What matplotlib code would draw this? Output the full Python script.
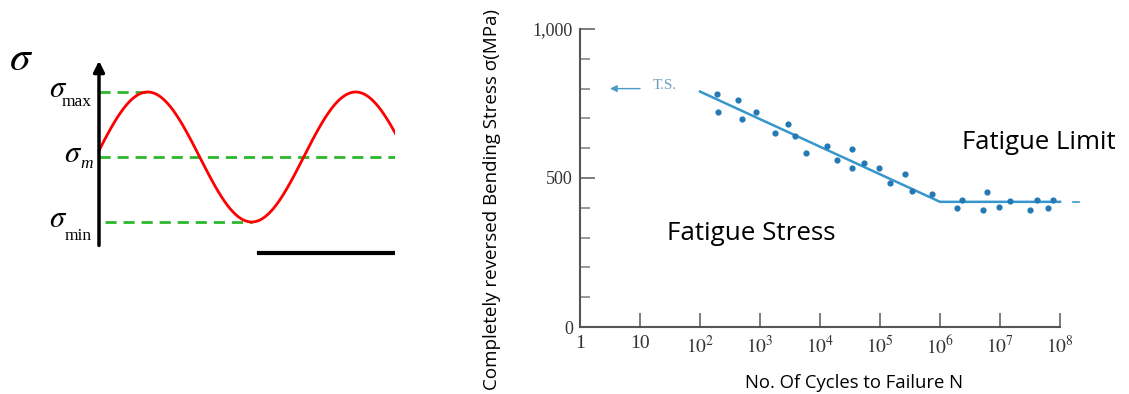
import matplotlib.pyplot as plt
import numpy as np

plt.rcParams['mathtext.fontset'] = 'stix'

# left sketch: stress vs time, x in cycles, y in units of the amplitude
sigma_mean = 0.0
sigma_amp = 1.0
sigma_phase = 0.1
t_end = 1.43

# right chart: S-N data
cycles = [190, 200, 427, 500, 871, 1778, 2951, 3802, 5888, 12882, 19055,
          34674, 34674, 54954, 97724, 144544, 257040, 338844, 741310,
          2344229, 1905461, 5248075, 6025596, 9549926, 14791084,
          31622777, 41686938, 63095734, 77624712]
stress = [781, 722, 761, 697, 722, 650, 680, 641, 585, 607, 560, 596, 532,
          552, 532, 482, 512, 457, 446, 426, 398, 393, 452, 404, 424, 391,
          426, 398, 426]
fit_cycles = [1e2, 1e6, 1e8]
fit_stress = [790, 420, 420]
tensile_strength = 800
xtick_vals = [10**k for k in range(9)]
xtick_labels = ['1', '10'] + ['$10^{%d}$' % k for k in range(2, 9)]
ytick_vals = [0, 500, 1000]
ytick_labels = ['0', '500', '1,000']

W, H = 1129, 394
fig = plt.figure(figsize=(W / 100, H / 100), dpi=100)

# ---- left: cyclic stress sketch ----
ax1 = fig.add_axes([0, 0, 395 / W, 1])
ax1.set_xlim(-99 / 208, 296 / 208)
ax1.set_ylim((157 - 394) / 65, 157 / 65)
ax1.axis('off')


def px(x, y):
    # pixel position in the picture -> data units of the sketch
    return (x - 99) / 208, (157 - y) / 65


green = '#2cb82c'
t_peak = (np.pi / 2 - sigma_phase) / (2 * np.pi)
t_trough = t_peak + 0.5
ax1.plot([0, t_peak], [sigma_mean + sigma_amp] * 2, color=green, lw=2,
         dashes=(4, 2.5))
ax1.plot([0.03, t_trough], [sigma_mean - sigma_amp] * 2, color=green, lw=2,
         dashes=(4, 2.5))
ax1.plot([0, t_end], [sigma_mean] * 2, color=green, lw=2, dashes=(4, 2.5))

t = np.linspace(0, t_end, 500)
ax1.plot(t, sigma_mean + sigma_amp * np.sin(2 * np.pi * t + sigma_phase),
         color='red', lw=2)

ax1.annotate('', xy=(0, 1.48), xytext=(0, -1.36),
             arrowprops=dict(arrowstyle='-|>', lw=2.5, color='black',
                             mutation_scale=16, shrinkA=0, shrinkB=0))
ax1.plot([0.77, t_end], [-1.48, -1.48], color='black', lw=3)

# sigma labels: big glyph plus small upright subscript
ax1.text(*px(21, 70), r'$\sigma$', fontsize=30, ha='center', va='baseline')
sig_labels = [(58, 97, 'max', 77, 106, 'normal'),
              (73, 162, 'm', 87, 168, 'italic'),
              (58, 227, 'min', 78, 240, 'normal')]
for sx, sy, sub, bx, by, style in sig_labels:
    ax1.text(*px(sx, sy), r'$\sigma$', fontsize=22, ha='center',
             va='baseline')
    ax1.text(*px(bx, by), sub, fontsize=12.5, ha='center', va='baseline',
             family='Liberation Serif', style=style)

# ---- right: S-N curve ----
ax2 = fig.add_axes([580 / W, 1 - 327 / H, 480 / W, 298 / H])
ax2.set_xscale('log')
ax2.set_xlim(1, 1e8)
ax2.set_ylim(0, 1000)

blue = '#3796cc'
ax2.plot(fit_cycles, fit_stress, color=blue, lw=1.8, clip_on=False)
ax2.scatter(cycles, stress, s=12, color='#2479b4', zorder=3, clip_on=False)
ax2.plot([10**8.22, 10**8.32], [420, 420], color=blue, lw=1.2, clip_on=False)

ax2.annotate('', xy=(10**0.5, tensile_strength),
             xytext=(10**1.0, tensile_strength),
             arrowprops=dict(arrowstyle='-|>', color='#4a9cc8', lw=1,
                             mutation_scale=10, shrinkA=0, shrinkB=0))
ax2.text(10**1.22, tensile_strength + 12, 'T.S.', color='#6b9fbd',
         fontsize=11, family='Liberation Serif', va='center')

for s in ['top', 'right']:
    ax2.spines[s].set_visible(False)
for s in ['left', 'bottom']:
    ax2.spines[s].set_color('#555555')
    ax2.spines[s].set_linewidth(1.5)

ax2.set_xticks(xtick_vals)
ax2.set_xticklabels(xtick_labels)
ax2.xaxis.set_minor_locator(plt.NullLocator())
ax2.set_yticks(ytick_vals)
ax2.set_yticklabels(ytick_labels)
ax2.set_yticks(np.arange(100, 1000, 100), minor=True)
ax2.tick_params(axis='x', direction='in', length=10, width=1.2,
                color='#666666', labelsize=14, pad=6)
ax2.tick_params(axis='y', which='major', direction='in', length=11,
                width=1.2, color='#666666', labelsize=13, pad=5)
ax2.tick_params(axis='y', which='minor', direction='in', length=7,
                width=1.2, color='#888888')
for lab in ax2.get_xticklabels() + ax2.get_yticklabels():
    lab.set_family('Liberation Serif')
    lab.set_color('#333333')

fig.text(492 / W, 1 - 199 / H,
         'Completely reversed Bending Stress \u03c3(MPa)', rotation=90,
         ha='center', va='center', fontsize=13.5, family='Open Sans')
fig.text(854 / W, 1 - 383 / H, 'No. Of Cycles to Failure N', ha='center',
         va='center', fontsize=13.3, family='Open Sans')
fig.text(751 / W, 1 - 233 / H, 'Fatigue Stress', ha='center', va='center',
         fontsize=18.7, family='Open Sans')
fig.text(1039 / W, 1 - 142 / H, 'Fatigue Limit', ha='center', va='center',
         fontsize=18.5, family='Open Sans')

fig.savefig('out.png', dpi=100)
